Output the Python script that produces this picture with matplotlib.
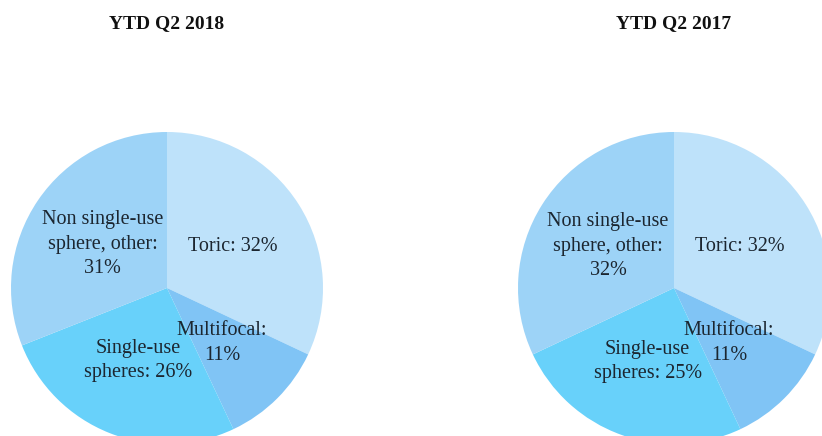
import matplotlib.pyplot as plt

# Revenue mix by lens category
categories = ["Toric", "Multifocal", "Single-use\nspheres", "Non single-use\nsphere, other"]
share_2018 = [32, 11, 26, 31]
share_2017 = [32, 11, 25, 32]
titles = ["YTD Q2 2018", "YTD Q2 2017"]

colors = ["#bee2fa", "#80c4f5", "#68d1fa", "#9dd3f7"]

plt.rcParams['font.family'] = ['Liberation Serif', 'DejaVu Serif']

W, H = 822, 436
fig = plt.figure(figsize=(W / 100, H / 100), dpi=100)
ax = fig.add_axes([0, 0, 1, 1])

centers = [(167, H - 288), (674, H - 288)]
radius = 156


def pie_labels(values):
    labels = []
    for c, v in zip(categories, values):
        if c == "Multifocal" or c.startswith("Non"):
            labels.append(f"{c}:\n{v}%")
        else:
            labels.append(f"{c}: {v}%")
    return labels


for values, center, title in zip([share_2018, share_2017], centers, titles):
    wedges, texts = ax.pie(values, labels=pie_labels(values), colors=colors,
                           startangle=90, counterclock=False, center=center,
                           radius=radius, labeldistance=0.5,
                           wedgeprops=dict(linewidth=0),
                           textprops=dict(fontsize=14.5, color="#1c2630",
                                          linespacing=1.4))
    for t in texts:
        t.set_ha("center")
        t.set_va("center")
    ax.text(center[0], H - 24, title, ha="center", va="center",
            fontsize=14, fontweight="bold", color="#111111")

ax.set_xlim(0, W)
ax.set_ylim(0, H)
ax.set_aspect("equal")
ax.axis("off")

plt.savefig("out.png", dpi=100)
